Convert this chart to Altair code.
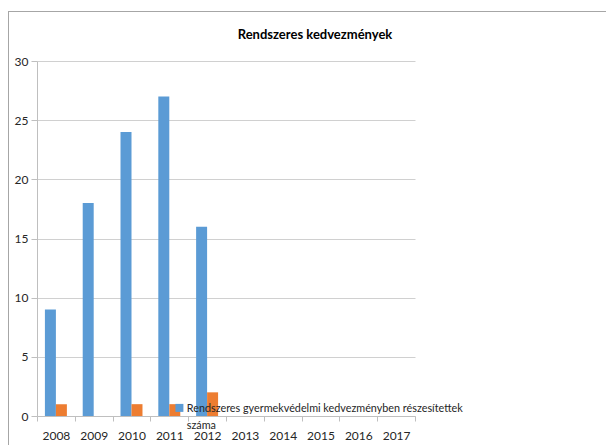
import altair as alt
import pandas as pd

# ---- data ----
years = ["2008", "2009", "2010", "2011", "2012", "2013", "2014", "2015", "2016", "2017"]
series_main = "Rendszeres gyermekvédelmi kedvezményben részesítettek száma"
series_other = "Egyéb kedvezményben részesítettek száma"
main_years = ["2008", "2009", "2010", "2011", "2012"]
main_values = [9, 18, 24, 27, 16]
other_years = ["2008", "2009", "2010", "2011", "2012"]
other_values = [1, 0, 1, 1, 2]
y_ticks = [0, 5, 10, 15, 20, 25, 30]
title_text = "Rendszeres kedvezmények"

rows = []
for y, v in zip(main_years, main_values):
    rows.append({"year": y, "series": series_main, "value": v})
for y, v in zip(other_years, other_values):
    rows.append({"year": y, "series": series_other, "value": v})
df = pd.DataFrame(rows)

FONT = "Lato, 'DejaVu Sans Condensed', sans-serif"
BLUE = "#5b9bd5"
ORANGE = "#ed7d31"
GRID = "#d0d0d0"
AXIS = "#bfbfbf"
TEXT = "#262626"

W, H = 378, 355

bars = alt.Chart(df).mark_bar().encode(
    x=alt.X(
        "year:N",
        sort=years,
        scale=alt.Scale(domain=years, paddingInner=0, paddingOuter=0),
        axis=alt.Axis(
            title=None, labelAngle=0, tickBand="extent", ticks=True, tickSize=5,
            domainColor=AXIS, tickColor=AXIS, labelPadding=9, grid=False,
            labelFont=FONT, labelFontSize=12, labelColor=TEXT,
        ),
    ),
    xOffset=alt.XOffset(
        "series:N",
        scale=alt.Scale(domain=[series_main, series_other], paddingInner=0, paddingOuter=0.72),
    ),
    y=alt.Y(
        "value:Q",
        scale=alt.Scale(domain=[0, 30], nice=False),
        axis=alt.Axis(
            title=None, values=y_ticks, tickSize=6, labelPadding=3,
            domainColor=AXIS, tickColor=AXIS, gridColor=GRID,
            labelFont=FONT, labelFontSize=12, labelColor=TEXT,
        ),
    ),
    color=alt.Color(
        "series:N",
        scale=alt.Scale(domain=[series_main, series_other], range=[BLUE, ORANGE]),
        legend=alt.Legend(
            values=[series_main],
            title=None,
            orient="none",
            legendX=137,
            legendY=346,
            padding=0,
            symbolType="M-1,-2.125L1,-2.125L1,-0.125L-1,-0.125Z",
            symbolSize=64,
            symbolStrokeWidth=0,
            labelOffset=2,
            labelLimit=0,
            labelBaseline="alphabetic",
            labelFont=FONT,
            labelFontSize=10.8,
            labelColor=TEXT,
            labelExpr="['Rendszeres gyermekvédelmi kedvezményben részesítettek', 'száma']",
        ),
    ),
)

frame_data = pd.DataFrame({"k": [0]})
frame_top = alt.Chart(frame_data).mark_rule(color="#a6a6a6", strokeWidth=1).encode(
    x=alt.value(-29), x2=alt.value(600), y=alt.value(-49.5)
)
frame_left = alt.Chart(frame_data).mark_rule(color="#a6a6a6", strokeWidth=1).encode(
    x=alt.value(-28.5), y=alt.value(-50), y2=alt.value(400)
)

chart = alt.layer(frame_top, frame_left, bars).properties(
    width=W,
    height=H,
    autosize=alt.AutoSizeParams(type="none"),
    padding={"left": 29, "top": 53, "right": 191, "bottom": 29},
    title=alt.TitleParams(
        text=title_text, anchor="middle", dx=89, offset=-31,
        font=FONT, fontSize=13, fontWeight="bold", color="#000000",
    ),
).configure(
    view=alt.ViewConfig(stroke="transparent"),
    style={"guide-label": {"lineHeight": 17}},
)

chart.save("out.html", embed_options={"renderer": "svg", "actions": False})
